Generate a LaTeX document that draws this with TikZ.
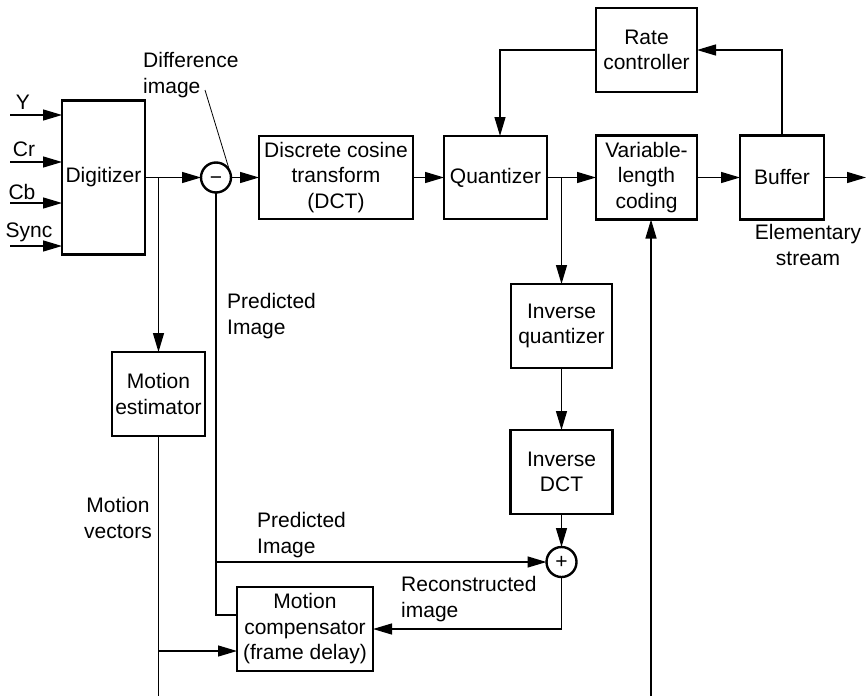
\documentclass[tikz,border=0pt]{standalone}
\usepackage{fontspec}
\setmainfont{Liberation Sans}
\usetikzlibrary{arrows.meta,calc}
\newcommand\figfont{\fontsize{21}{25.5}\selectfont}
\tikzset{
  box/.style={draw, line width=2.4pt, align=center, inner sep=0pt, outer sep=0pt, font=\figfont},
  conn/.style={line width=1.3pt},
  arr/.style={conn, -{Triangle[length=19pt,width=11pt]}},
  junc/.style={draw, circle, line width=2.4pt, minimum size=30pt, inner sep=0pt, outer sep=0pt},
  lbl/.style={align=left, inner sep=0pt, font=\figfont},
  sym/.style={inner sep=0pt, anchor=base, font=\fontsize{21}{21}\selectfont},
  leader/.style={line width=0.8pt}
}
\begin{document}
\begin{tikzpicture}[x=1pt,y=-1pt]
\useasboundingbox (0,0) rectangle (867,696);

% boxes
\node[box, minimum width=83pt, minimum height=154pt] (dig) at (103.5,177.5) {Digitizer};
\node[junc] (minus) at (216,177.5) {};
\node[sym] (minussym) at (216,184.5) {−};
\node[box, minimum width=154pt, minimum height=83pt] (dct) at (336,177.5) {Discrete cosine\\transform\\(DCT)};
\node[box, minimum width=103pt, minimum height=83pt] (quant) at (495.5,177.5) {Quantizer};
\node[box, minimum width=101pt, minimum height=84pt] (vlc) at (646.5,177.5) {Variable-\\length\\coding};
\node[box, minimum width=84pt, minimum height=84pt] (buf) at (782,177.5) {Buffer};
\node[box, minimum width=101pt, minimum height=84pt] (rate) at (646.5,50) {Rate\\controller};
\node[box, minimum width=101pt, minimum height=84pt] (iq) at (561.5,326) {Inverse\\quantizer};
\node[box, minimum width=102pt, minimum height=84pt] (idct) at (561.5,472) {Inverse\\DCT};
\node[junc] (plus) at (561.5,562) {};
\node[sym] (plussym) at (561.5,568.5) {+};
\node[box, minimum width=93pt, minimum height=84pt] (mest) at (158.5,394) {Motion\\estimator};
\node[box, minimum width=136pt, minimum height=84pt] (mcomp) at (305,629) {Motion\\compensator\\(frame delay)};

% input labels and arrows
\node[lbl] (lY) at (23,102) {Y};
\node[lbl] (lCr) at (24,149) {Cr};
\node[lbl] (lCb) at (22,192) {Cb};
\node[lbl] (lSync) at (29,232) {Sync};
\coordinate (inY) at (10,115);
\coordinate (inCr) at (10,162);
\coordinate (inCb) at (10,203);
\coordinate (inSync) at (10,246);
\foreach \c in {inY,inCr,inCb,inSync}
  \draw[arr] (\c) -- (\c -| dig.west);

% main path
\coordinate (j1) at (158.5,177.5);
\draw[arr] (dig.east) -- (minus.west);
\draw[arr] (minus.east) -- (dct.west);
\draw[arr] (dct.east) -- (quant.west);
\draw[arr] (quant.east) -- (vlc.west);
\draw[arr] (vlc.east) -- (buf.west);
\coordinate (out) at (866,177.5);
\draw[arr] (buf.east) -- (out);

% rate control loop
\draw[arr] (buf.north) |- (rate.east);
\draw[arr] (rate.west) -| ([xshift=4.5pt]quant.north);

% inverse path
\coordinate (j2) at (561.5,177.5);
\draw[arr] (j2) -- (iq.north);
\draw[arr] (iq.south) -- (idct.north);
\draw[arr] (idct.south) -- (plus.north);
\draw[arr] (plus.south) |- (mcomp.east);

% predicted image
\coordinate (pj) at (216,562);
\coordinate (pcorner) at (216,615);
\draw[conn] (minus.south) -- (pcorner) -- (pcorner -| mcomp.west);
\draw[arr] (pj) -- (plus.west);

% motion estimation
\draw[arr] (j1) -- (mest.north);
\coordinate (mvbot) at (158.5,696);
\coordinate (mvj) at (158.5,651);
\draw[conn] (mest.south) -- (mvbot);
\draw[arr] (mvj) -- (mvj -| mcomp.west);

% input to VLC from below
\coordinate (vlcin) at (651,696);
\draw[arr] (vlcin) -- (vlcin |- vlc.south);

% labels
\node[lbl, anchor=west] (ldiff) at (143,75) {Difference\\image};
\coordinate (ldA) at (205,90);
\draw[leader] (ldA) -- (minus.12);
\node[lbl, anchor=west] (lpred1) at (227,316) {Predicted\\Image};
\node[lbl, anchor=west] (lpred2) at (257,535) {Predicted\\Image};
\node[lbl, anchor=west] (lrec) at (401,599) {Reconstructed\\image};
\node[lbl, align=center] (lelem) at (808,245) {Elementary\\stream};
\node[lbl, align=center] (lmv) at (118,518) {Motion\\vectors};
\end{tikzpicture}
\end{document}
